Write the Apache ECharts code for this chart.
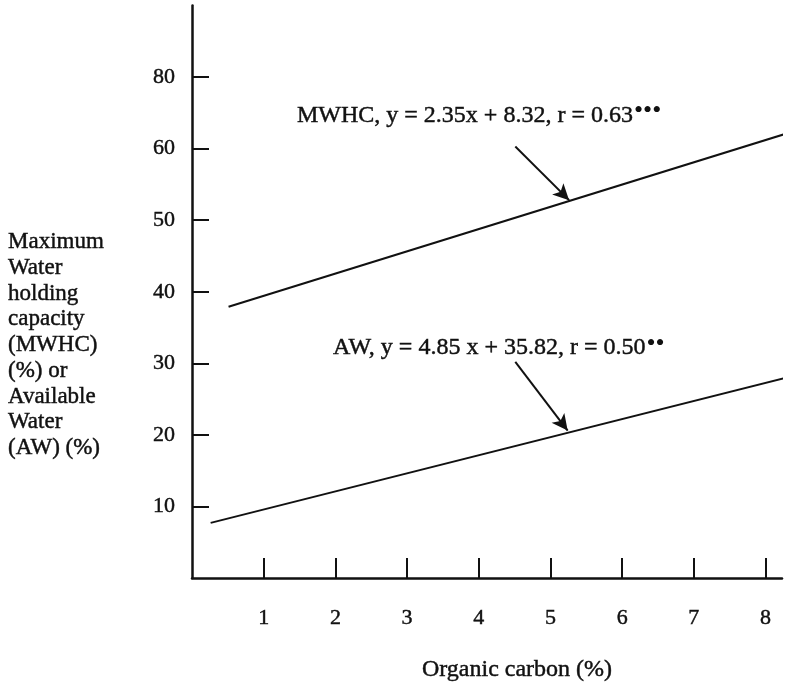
<!DOCTYPE html>
<html>
<head>
<meta charset="utf-8">
<script src="https://cdn.jsdelivr.net/npm/echarts@6/dist/echarts.min.js"></script>
<style>
html,body{margin:0;padding:0;background:#fff;}
#chart{width:797px;height:685px;}
</style>
</head>
<body>
<div id="chart"></div>
<script>
// ---- data ----
var xTickValues = [1, 2, 3, 4, 5, 6, 7, 8];
var xTickLabels = ['1', '2', '3', '4', '5', '6', '7', '8'];
var yTickValues = [10, 20, 30, 40, 50, 60, 70];
var yTickLabels = ['10', '20', '30', '40', '50', '60', '80'];
var mwhcX = [0.51, 8.45];
var mwhcY = [37.9, 62.6];
var awX = [0.26, 8.25];
var awY = [7.7, 27.9];
var mwhcArrowX = [4.51, 5.26];
var mwhcArrowY = [60.3, 52.8];
var awArrowX = [4.51, 5.24];
var awArrowY = [30.2, 20.6];
var mwhcLabel = 'MWHC, y = 2.35x + 8.32, r = 0.63';
var mwhcStars = '•••';
var awLabel = 'AW, y = 4.85 x + 35.82, r = 0.50';
var awStars = '••';
var yTitleLines = ['Maximum', 'Water', 'holding', 'capacity', '(MWHC)', '(%) or', 'Available', 'Water', '(AW) (%)'];
var xTitle = 'Organic carbon (%)';

var FONT = 'Liberation Serif, Times New Roman, serif';
var INK = '#111';

function pairs(xs, ys) { return xs.map(function (x, i) { return [x, ys[i]]; }); }

function measure(text, size) {
  var c = document.createElement('canvas').getContext('2d');
  c.font = size + 'px ' + FONT;
  return c.measureText(text).width;
}

var chart = echarts.init(document.getElementById('chart'), null, { renderer: 'canvas' });

var lblSize = 24;
var mwhcLeft = 297, mwhcCY = 116;
var awLeft = 333, awCY = 348;
var mwhcW = measure(mwhcLabel, lblSize);
var awW = measure(awLabel, lblSize);

function arrowLine(xs, ys) {
  return {
    silent: true,
    symbol: ['none', 'arrow'],
    symbolSize: [12, 16],
    lineStyle: { color: INK, width: 2, type: 'solid' },
    label: { show: false },
    emphasis: { disabled: true },
    animation: false,
    data: [[{ coord: [xs[0], ys[0]] }, { coord: [xs[1], ys[1]] }]]
  };
}

function textStyle(text, size, extra) {
  var s = { text: text, fill: INK, font: size + 'px ' + FONT, stroke: INK, lineWidth: 0.45,
            verticalAlign: 'middle', align: 'left' };
  for (var k in extra) s[k] = extra[k];
  return s;
}

var option = {
  backgroundColor: '#fff',
  animation: false,
  grid: { left: 192, top: 5.5, width: 590, height: 572.5, containLabel: false },
  xAxis: {
    type: 'value', min: 0, max: 8.23,
    axisLine: { show: true, onZero: false, lineStyle: { color: INK, width: 2.5 } },
    axisTick: { show: true, inside: true, length: 20, lineStyle: { color: INK, width: 2 }, customValues: xTickValues },
    axisLabel: {
      show: true, margin: 29, color: INK, fontSize: 22, fontFamily: FONT,
      textBorderColor: INK, textBorderWidth: 0.45,
      customValues: xTickValues,
      formatter: function (v) { var i = xTickValues.indexOf(v); return i >= 0 ? xTickLabels[i] : ''; }
    },
    splitLine: { show: false }
  },
  yAxis: {
    type: 'value', min: 0, max: 80,
    axisLine: { show: true, onZero: false, lineStyle: { color: INK, width: 2.5 } },
    axisTick: { show: true, inside: true, length: 17, lineStyle: { color: INK, width: 2 }, customValues: yTickValues },
    axisLabel: {
      show: true, margin: 17, color: INK, fontSize: 22, fontFamily: FONT,
      textBorderColor: INK, textBorderWidth: 0.45,
      customValues: yTickValues,
      formatter: function (v) { var i = yTickValues.indexOf(v); return i >= 0 ? yTickLabels[i] : ''; }
    },
    splitLine: { show: false }
  },
  series: [
    {
      name: 'MWHC', type: 'line', data: pairs(mwhcX, mwhcY), clip: false,
      showSymbol: false, symbol: 'none', lineStyle: { color: INK, width: 2 },
      markLine: arrowLine(mwhcArrowX, mwhcArrowY)
    },
    {
      name: 'AW', type: 'line', data: pairs(awX, awY), clip: false,
      showSymbol: false, symbol: 'none', lineStyle: { color: INK, width: 2 },
      markLine: arrowLine(awArrowX, awArrowY)
    }
  ],
  graphic: [
    { type: 'text', x: mwhcLeft, y: mwhcCY, silent: true, style: textStyle(mwhcLabel, lblSize) },
    { type: 'text', x: mwhcLeft + mwhcW + 1, y: mwhcCY - 5, silent: true,
      style: { text: mwhcStars, fill: INK, font: '26px ' + FONT, verticalAlign: 'middle', align: 'left' } },
    { type: 'text', x: awLeft, y: awCY, silent: true, style: textStyle(awLabel, lblSize) },
    { type: 'text', x: awLeft + awW + 1, y: awCY - 4, silent: true,
      style: { text: awStars, fill: INK, font: '26px ' + FONT, verticalAlign: 'middle', align: 'left' } },
    { type: 'text', x: 8, y: 345, silent: true,
      style: textStyle(yTitleLines.join('\n'), 23, { lineHeight: 25.75 }) },
    { type: 'text', x: 517, y: 670, silent: true,
      style: textStyle(xTitle, 24, { align: 'center' }) }
  ]
};
chart.setOption(option);
</script>
</body>
</html>
